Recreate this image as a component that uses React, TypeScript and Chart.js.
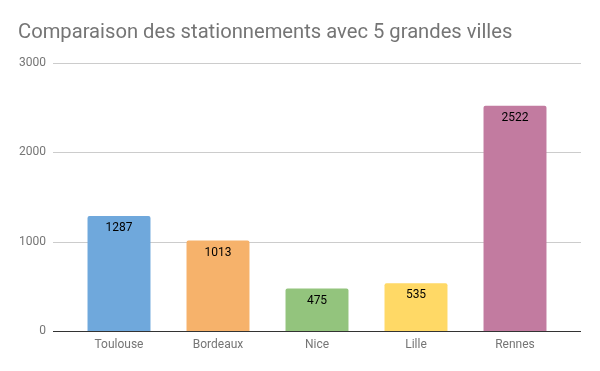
import React, { useEffect, useRef } from "react";
import { Chart, registerables } from "chart.js";

Chart.register(...registerables);

const TITLE = "Comparaison des stationnements avec 5 grandes villes";
const cities = ["Toulouse", "Bordeaux", "Nice", "Lille", "Rennes"];
const parkings = [1287, 1013, 475, 535, 2522];
const barColors = ["#6fa8dc", "#f6b26b", "#93c47d", "#ffd966", "#c27ba0"];
const yTicks = [0, 1000, 2000, 3000];

const FONT = "Roboto, 'Noto Sans', sans-serif";

const extGrid = {
  id: "extGrid",
  beforeDatasetsDraw(chart: any) {
    const { ctx, chartArea, scales } = chart;
    const y = scales.y;
    const left = chartArea.left - 16.5;
    const right = chartArea.right + 16.5;
    ctx.save();
    yTicks.forEach((v) => {
      const py = Math.round(y.getPixelForValue(v)) + 0.5;
      ctx.beginPath();
      ctx.strokeStyle = v === 0 ? "#333333" : "#cccccc";
      ctx.lineWidth = 1;
      ctx.moveTo(left, py);
      ctx.lineTo(right, py);
      ctx.stroke();
    });
    ctx.restore();
  },
};

const valueLabels = {
  id: "valueLabels",
  afterDatasetsDraw(chart: any) {
    const { ctx } = chart;
    const meta = chart.getDatasetMeta(0);
    ctx.save();
    ctx.font = `12px ${FONT}`;
    ctx.fillStyle = "#000000";
    ctx.textAlign = "center";
    ctx.textBaseline = "middle";
    meta.data.forEach((bar: any, i: number) => {
      ctx.fillText(String(parkings[i]), bar.x, bar.y + 12);
    });
    ctx.restore();
  },
};

export default function App() {
  const ref = useRef<HTMLCanvasElement>(null);
  useEffect(() => {
    if (!ref.current) return;
    const chart = new Chart(ref.current, {
      type: "bar",
      data: {
        labels: cities,
        datasets: [
          {
            data: parkings,
            backgroundColor: barColors,
            borderRadius: { topLeft: 2, topRight: 2, bottomLeft: 0, bottomRight: 0 },
            borderSkipped: false,
            barPercentage: 0.636,
            categoryPercentage: 1,
          },
        ],
      },
      options: {
        animation: false,
        responsive: false,
        maintainAspectRatio: false,
        layout: { padding: { left: 18, right: 35.5, top: 0, bottom: 0 } },
        plugins: {
          legend: { display: false },
          tooltip: { enabled: false },
          title: {
            display: true,
            text: TITLE,
            align: "start",
            color: "#757575",
            font: { family: FONT, size: 20.2, weight: "normal", lineHeight: 1.2 },
            padding: { top: 21, bottom: 17.76 },
          },
        },
        scales: {
          x: {
            grid: { display: false, drawTicks: false },
            border: { display: false },
            ticks: { color: "#757575", font: { family: FONT, size: 12 }, padding: 7 },
            afterFit: (s: any) => {
              s.height = 40;
            },
          },
          y: {
            min: 0,
            max: 3000,
            grid: { display: false, drawTicks: false },
            border: { display: false },
            ticks: {
              stepSize: 1000,
              color: "#757575",
              font: { family: FONT, size: 12 },
              padding: 23.5,
              callback: (v: any) => String(v),
            },
            afterFit: (s: any) => {
              s.width = 51.5;
            },
          },
        },
      },
      plugins: [extGrid, valueLabels],
    });
    return () => chart.destroy();
  }, []);
  return (
    <div style={{ position: "fixed", left: 0, top: 0, width: 600, height: 371, background: "#fff" }}>
      <canvas ref={ref} width={600} height={371} style={{ width: 600, height: 371 }} />
    </div>
  );
}
